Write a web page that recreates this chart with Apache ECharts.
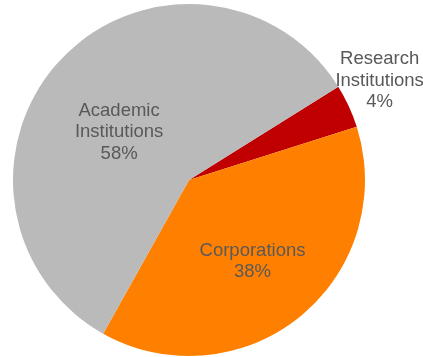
<!DOCTYPE html>
<html>
<head>
<meta charset="utf-8">
<style>html,body{margin:0;padding:0;background:#fff;}#c{width:423px;height:357px;}</style>
<script src="https://cdn.jsdelivr.net/npm/echarts@6/dist/echarts.min.js"></script>
</head>
<body>
<div id="c"></div>
<script>
var categories = ['Research\nInstitutions', 'Corporations', 'Academic\nInstitutions'];
var values = [4, 38, 58];
var colors = ['#C00000', '#FF8000', '#BABABA'];
var labelOffsets = [[108, -61], [6, 11], [-4, 15]];

var chart = echarts.init(document.getElementById('c'), null, {renderer: 'canvas'});
var data = categories.map(function (name, i) {
  return {
    name: name,
    value: values[i],
    itemStyle: {color: colors[i]},
    label: {offset: labelOffsets[i]}
  };
});
chart.setOption({
  animation: false,
  series: [{
    type: 'pie',
    center: [189, 180],
    radius: [0, 176],
    startAngle: 32,
    clockwise: true,
    data: data,
    itemStyle: {borderWidth: 0},
    emphasis: {disabled: true},
    label: {
      show: true,
      position: 'inside',
      formatter: function (p) { return p.name + '\n' + p.value + '%'; },
      fontFamily: 'Liberation Sans, Arial, sans-serif',
      fontSize: 18.5,
      lineHeight: 21.5,
      color: '#595959',
      align: 'center'
    },
    labelLine: {show: false}
  }]
});
</script>
</body>
</html>
